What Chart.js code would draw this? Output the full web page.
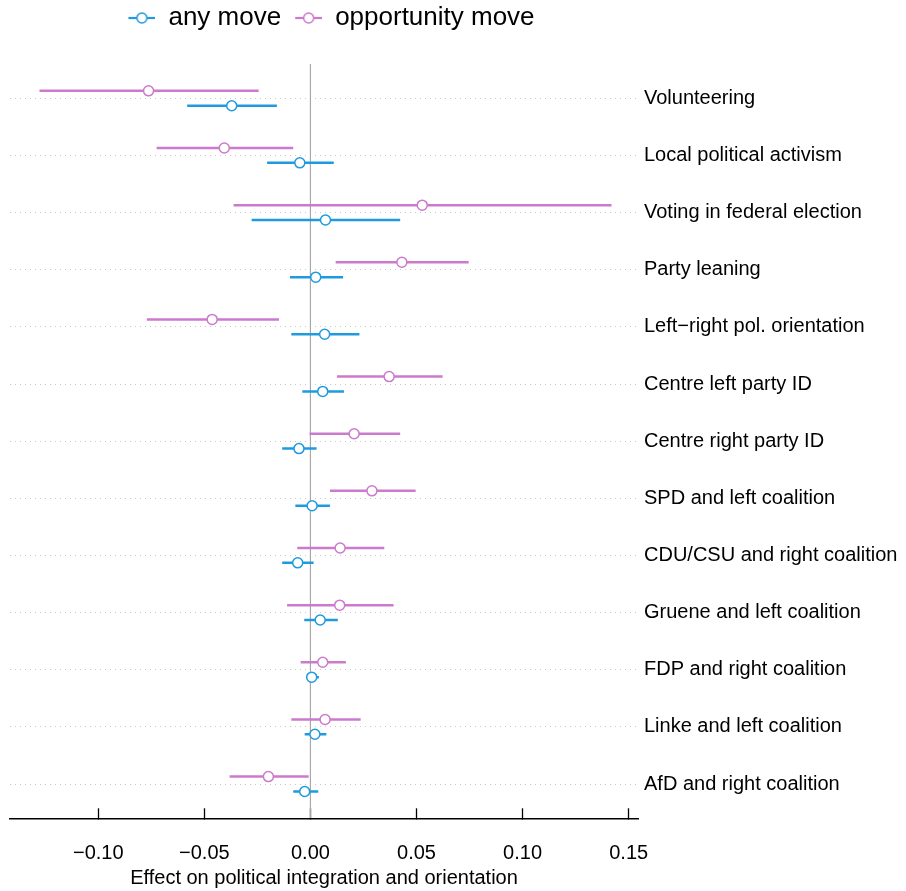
<!DOCTYPE html>
<html><head><meta charset="utf-8">
<script src="https://cdn.jsdelivr.net/npm/chart.js@4.4.1/dist/chart.umd.min.js"></script>
<style>html,body{margin:0;padding:0;background:#fff}canvas{display:block}</style>
</head><body>
<canvas id="c" width="906" height="891"></canvas>
<script>
const categories = [
  'Volunteering', 'Local political activism', 'Voting in federal election', 'Party leaning',
  'Left\u2212right pol. orientation', 'Centre left party ID', 'Centre right party ID',
  'SPD and left coalition', 'CDU/CSU and right coalition', 'Gruene and left coalition',
  'FDP and right coalition', 'Linke and left coalition', 'AfD and right coalition'
];
const seriesNames = ['any move', 'opportunity move'];
const anyEst = [-0.0371, -0.0050, 0.0071, 0.0025, 0.0067, 0.0058, -0.0054, 0.0008, -0.0060, 0.0046, 0.0006, 0.0021, -0.0027];
const anyLo  = [-0.0581, -0.0204, -0.0277, -0.0096, -0.0090, -0.0038, -0.0133, -0.0071, -0.0133, -0.0029, -0.0021, -0.0027, -0.0081];
const anyHi  = [-0.0158, 0.0110, 0.0423, 0.0154, 0.0231, 0.0158, 0.0029, 0.0092, 0.0015, 0.0129, 0.0040, 0.0075, 0.0037];
const oppEst = [-0.0763, -0.0406, 0.0527, 0.0431, -0.0463, 0.0371, 0.0206, 0.0290, 0.0140, 0.0138, 0.0058, 0.0069, -0.0198];
const oppLo  = [-0.1277, -0.0725, -0.0362, 0.0119, -0.0771, 0.0125, -0.0004, 0.0092, -0.0062, -0.0110, -0.0046, -0.0090, -0.0381];
const oppHi  = [-0.0244, -0.0081, 0.1419, 0.0746, -0.0148, 0.0623, 0.0423, 0.0496, 0.0348, 0.0392, 0.0167, 0.0237, -0.0008];
const xTicks = [-0.10, -0.05, 0.00, 0.05, 0.10, 0.15];
const xTitle = 'Effect on political integration and orientation';

const BLUE = '#1E9BDE', PINK = '#CC7ACC';
const OFFSET = 0.13;
const FONT = "'Liberation Sans', Arial, Helvetica, sans-serif";

Chart.defaults.font.family = FONT;
Chart.defaults.color = '#000';

function barData(lo, hi, off) {
  const out = [];
  categories.forEach((c, i) => {
    out.push({x: lo[i], y: i + off});
    out.push({x: hi[i], y: i + off});
    out.push({x: hi[i], y: null});
  });
  return out;
}
function pointData(est, off) { return est.map((v, i) => ({x: v, y: i + off})); }

function makeGlyph(color) {
  const c = document.createElement('canvas');
  c.width = 36; c.height = 14;
  const g = c.getContext('2d');
  g.strokeStyle = color; g.lineWidth = 2.2;
  g.beginPath(); g.moveTo(9, 7); g.lineTo(36, 7); g.stroke();
  g.beginPath(); g.arc(22.5, 7, 5, 0, 2 * Math.PI);
  g.fillStyle = '#fff'; g.fill(); g.lineWidth = 1.5; g.stroke();
  return c;
}
const glyphs = {'any move': makeGlyph(BLUE), 'opportunity move': makeGlyph(PINK)};

const layoutFix = {
  id: 'layoutFix',
  beforeLayout(chart) {
    const lg = chart.legend;
    if (lg && !lg._patched) {
      const f = lg.fit;
      lg.fit = function () { f.call(this); this.height = 64; };
      lg._patched = true;
    }
  },
  afterLayout(chart) {
    const lg = chart.legend;
    if (lg) { lg.left += 3; lg.right += 3; }
  }
};

new Chart(document.getElementById('c'), {
  type: 'scatter',
  data: {
    datasets: [
      {label: seriesNames[0], legendKey: true, data: pointData(anyEst, OFFSET), pointRadius: 5, pointHoverRadius: 5,
       pointBorderWidth: 1.5, borderColor: BLUE, backgroundColor: '#fff', order: 0},
      {label: seriesNames[1], legendKey: true, data: pointData(oppEst, -OFFSET), pointRadius: 5, pointHoverRadius: 5,
       pointBorderWidth: 1.5, borderColor: PINK, backgroundColor: '#fff', order: 0},
      {label: 'any CI', data: barData(anyLo, anyHi, OFFSET), showLine: true, spanGaps: false, pointRadius: 0,
       borderColor: BLUE, borderWidth: 2.5, order: 1},
      {label: 'opp CI', data: barData(oppLo, oppHi, -OFFSET), showLine: true, spanGaps: false, pointRadius: 0,
       borderColor: PINK, borderWidth: 2.5, order: 1},
      {label: 'zero', data: [{x: 0, y: -0.6}, {x: 0, y: 12.6}], showLine: true, pointRadius: 0,
       borderColor: '#A8A8A8', borderWidth: 1.2, order: 2}
    ]
  },
  options: {
    responsive: false,
    animation: false,
    devicePixelRatio: 1,
    layout: {padding: {left: 10, right: 0, top: 0, bottom: 0}},
    plugins: {
      tooltip: {enabled: false},
      legend: {
        position: 'top',
        fullSize: false,
        align: 'center',
        labels: {
          usePointStyle: true,
          pointStyleWidth: 36,
          padding: 5,
          font: {size: 26, family: FONT},
          color: '#000',
          generateLabels(chart) {
            const items = Chart.defaults.plugins.legend.labels.generateLabels(chart);
            return items.filter(it => chart.data.datasets[it.datasetIndex].legendKey)
                        .map(it => Object.assign(it, {pointStyle: glyphs[it.text]}));
          }
        }
      }
    },
    scales: {
      x: {
        type: 'linear',
        position: 'bottom',
        min: -0.1416,
        max: 0.1544,
        afterBuildTicks(axis) { axis.ticks = xTicks.map(v => ({value: v})); },
        afterFit(scale) { scale.height = 72.7; },
        ticks: {
          padding: 33,
          font: {size: 20, family: FONT},
          color: '#000',
          callback: v => Number(v).toFixed(2).replace('-', '\u2212')
        },
        grid: {display: true, drawOnChartArea: false, drawTicks: true, tickLength: -10, tickColor: '#000', tickWidth: 1.3},
        border: {display: true, color: '#000', width: 1.5},
        title: {display: true, text: xTitle, font: {size: 20, family: FONT}, color: '#000', padding: {top: 0, bottom: 1}}
      },
      y: {
        type: 'linear',
        position: 'right',
        reverse: true,
        min: -0.6,
        max: 12.6,
        afterBuildTicks(axis) { axis.ticks = categories.map((c, i) => ({value: i})); },
        afterFit(scale) { scale.width = 268; },
        ticks: {
          autoSkip: false,
          padding: 6,
          font: {size: 20, family: FONT},
          color: '#000',
          callback: v => categories[v]
        },
        grid: {display: true, drawOnChartArea: true, drawTicks: false, color: '#C8C8C8', lineWidth: 1},
        border: {display: false, dash: [1, 4]}
      }
    }
  },
  plugins: [layoutFix]
});
</script>
</body></html>
